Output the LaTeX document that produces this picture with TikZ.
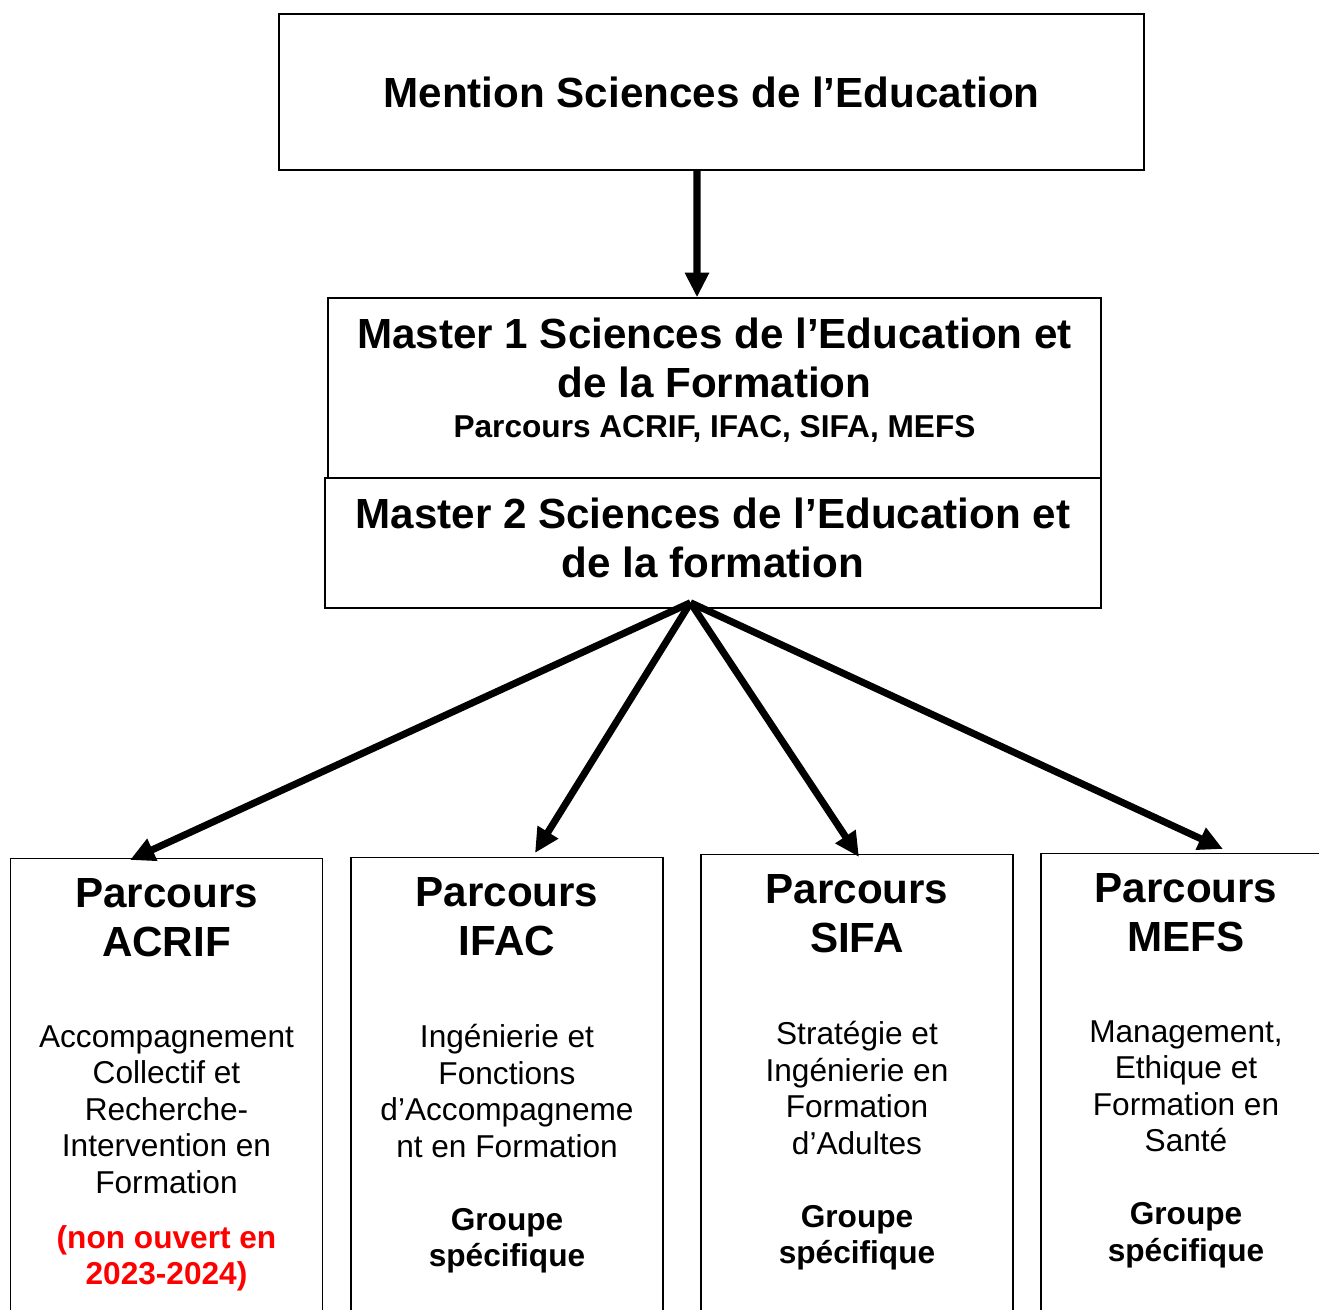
\documentclass[tikz,border=0pt]{standalone}
\usepackage{fontspec}
\setmainfont{Liberation Sans}
\usetikzlibrary{positioning,calc,arrows.meta}

\begin{document}
\begin{tikzpicture}[x=0.02cm, y=-0.02cm,
      boite/.style = {draw, line width=0.8pt, inner sep=0pt},
      colonne/.style = {boite, anchor=north, minimum width=6.24cm,
         minimum height=9.6cm},
      fleche/.style = {line width=4pt, -{Triangle[length=14pt,width=13pt]}},
      grand/.style = {inner sep=0pt, align=center,
         font=\fontsize{24}{27.8}\selectfont\bfseries},
      petit/.style = {inner sep=0pt, align=center,
         font=\fontsize{18}{20.8}\selectfont},
      petitgras/.style = {petit, font=\fontsize{18}{20.8}\selectfont\bfseries}]

   \useasboundingbox (0,0) rectangle (1319,1310);
   \clip (0,0) rectangle (1319,1310);

   % mention
   \node[boite, line width=1pt, minimum width=17.3cm, minimum height=3.12cm,
      font=\fontsize{24}{27.8}\selectfont\bfseries] (ment) at (711.5,92)
      {Mention Sciences de l’Education};

   % master 1 and master 2
   \node[boite, minimum width=15.46cm, minimum height=3.6cm] (m1) at (714.5,388) {};
   \node[boite, minimum width=15.52cm, minimum height=2.6cm] (m2) at (713,543) {};

   \node[grand, below=0.4cm of m1.north] (m1titre)
      {Master 1 Sciences de l’Education et\\de la Formation};
   \node[petitgras, below=0.34cm of m1titre] (m1parc)
      {Parcours ACRIF, IFAC, SIFA, MEFS};
   \node[grand, below=0.4cm of m2.north] (m2titre)
      {Master 2 Sciences de l’Education et\\de la formation};

   % parcours boxes (open at the bottom of the page)
   \node[colonne] (acrif) at (166.5,858) {};
   \node[colonne] (ifac)  at (507,857)   {};
   \node[colonne] (sifa)  at (857,854)   {};
   \node[colonne] (mefs)  at (1197,853)  {};

   % ACRIF
   \node[grand, below=0.4cm of acrif.north] (acrift) {Parcours\\ACRIF};
   \node[petit, below=1.36cm of acrift] (acrifd)
      {Accompagnement\\Collectif et\\Recherche-\\Intervention en\\Formation};
   \node[petitgras, text=red, below=0.62cm of acrifd] (acrifr)
      {(non ouvert en\\2023-2024)};

   % IFAC
   \node[grand, below=0.4cm of ifac.north] (ifact) {Parcours\\IFAC};
   \node[petit, below=1.36cm of ifact] (ifacd)
      {Ingénierie et\\Fonctions\\d’Accompagneme\\nt en Formation};
   \node[petitgras, below=1.0cm of ifacd] (ifacg) {Groupe\\spécifique};

   % SIFA
   \node[grand, below=0.4cm of sifa.north] (sifat) {Parcours\\SIFA};
   \node[petit, below=1.36cm of sifat] (sifad)
      {Stratégie et\\Ingénierie en\\Formation\\d’Adultes};
   \node[petitgras, below=1.0cm of sifad] (sifag) {Groupe\\spécifique};

   % MEFS (text sits a bit left of the box middle)
   \node[grand, below=0.4cm of mefs.north, xshift=-0.22cm] (mefst) {Parcours\\MEFS};
   \node[petit, below=1.36cm of mefst] (mefsd)
      {Management,\\Ethique et\\Formation en\\Santé};
   \node[petitgras, below=1.0cm of mefsd] (mefsg) {Groupe\\spécifique};

   % arrows
   \draw[fleche] ([xshift=-0.29cm]ment.south) -- ([xshift=-0.35cm]m1.north);

   \coordinate (fan) at ([xshift=-0.45cm, yshift=0.12cm]m2.south);
   \draw[fleche] (fan) -- ([xshift=-0.73cm, yshift=-0.04cm]acrif.north);
   \draw[fleche] (fan) -- ([xshift=0.56cm, yshift=0.08cm]ifac.north);
   \draw[fleche] (fan) -- ([xshift=0.04cm, yshift=-0.06cm]sifa.north);
   \draw[fleche] (fan) -- ([xshift=0.52cm, yshift=0.08cm]mefs.north);

\end{tikzpicture}
\end{document}
